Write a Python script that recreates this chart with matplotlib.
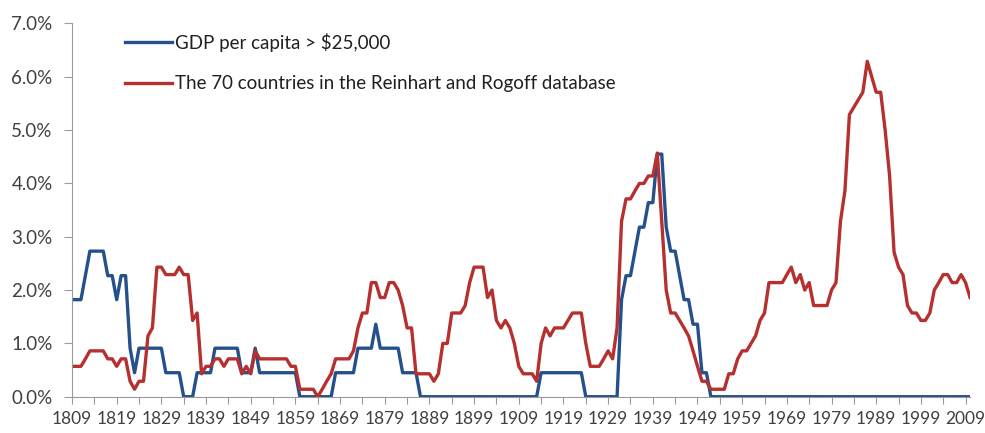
#!/usr/bin/env python3
"""
Share of countries in default / crisis, 1809-2010
two series: rich countries vs. full Reinhart-Rogoff sample
"""
import matplotlib
matplotlib.use("Agg")
import matplotlib.pyplot as plt
from matplotlib.ticker import FuncFormatter

plt.rcParams['font.family'] = ['Lato', 'DejaVu Sans']

# ---- data (percent, one value per year, 1809..2010) ----
start_year = 1809

gdp_25k = [
    1.82, 1.82, 1.82, 2.27, 2.73, 2.73, 2.73, 2.73, 2.27, 2.27,   # 1809
    1.82, 2.27, 2.27, 0.91, 0.45, 0.91, 0.91, 0.91, 0.91, 0.91,   # 1819
    0.91, 0.45, 0.45, 0.45, 0.45, 0.00, 0.00, 0.00, 0.45, 0.45,   # 1829
    0.45, 0.45, 0.91, 0.91, 0.91, 0.91, 0.91, 0.91, 0.45, 0.45,   # 1839
    0.45, 0.91, 0.45, 0.45, 0.45, 0.45, 0.45, 0.45, 0.45, 0.45,   # 1849
    0.45, 0.00, 0.00, 0.00, 0.00, 0.00, 0.00, 0.00, 0.00, 0.45,   # 1859
    0.45, 0.45, 0.45, 0.45, 0.91, 0.91, 0.91, 0.91, 1.36, 0.91,   # 1869
    0.91, 0.91, 0.91, 0.91, 0.45, 0.45, 0.45, 0.45, 0.00, 0.00,   # 1879
    0.00, 0.00, 0.00, 0.00, 0.00, 0.00, 0.00, 0.00, 0.00, 0.00,   # 1889
    0.00, 0.00, 0.00, 0.00, 0.00, 0.00, 0.00, 0.00, 0.00, 0.00,   # 1899
    0.00, 0.00, 0.00, 0.00, 0.00, 0.45, 0.45, 0.45, 0.45, 0.45,   # 1909
    0.45, 0.45, 0.45, 0.45, 0.45, 0.00, 0.00, 0.00, 0.00, 0.00,   # 1919
    0.00, 0.00, 0.00, 1.82, 2.27, 2.27, 2.73, 3.18, 3.18, 3.64,   # 1929
    3.64, 4.55, 4.55, 3.18, 2.73, 2.73, 2.27, 1.82, 1.82, 1.36,   # 1939
    1.36, 0.45, 0.45, 0.00, 0.00, 0.00, 0.00, 0.00, 0.00, 0.00,   # 1949
    0.00, 0.00, 0.00, 0.00, 0.00, 0.00, 0.00, 0.00, 0.00, 0.00,   # 1959
    0.00, 0.00, 0.00, 0.00, 0.00, 0.00, 0.00, 0.00, 0.00, 0.00,   # 1969
    0.00, 0.00, 0.00, 0.00, 0.00, 0.00, 0.00, 0.00, 0.00, 0.00,   # 1979
    0.00, 0.00, 0.00, 0.00, 0.00, 0.00, 0.00, 0.00, 0.00, 0.00,   # 1989
    0.00, 0.00, 0.00, 0.00, 0.00, 0.00, 0.00, 0.00, 0.00, 0.00,   # 1999
    0.00, 0.00,                                                   # 2009
]

all_70 = [
    0.57, 0.57, 0.57, 0.71, 0.86, 0.86, 0.86, 0.86, 0.71, 0.71,   # 1809
    0.57, 0.71, 0.71, 0.29, 0.14, 0.29, 0.29, 1.14, 1.29, 2.43,   # 1819
    2.43, 2.29, 2.29, 2.29, 2.43, 2.29, 2.29, 1.43, 1.57, 0.43,   # 1829
    0.57, 0.57, 0.71, 0.71, 0.57, 0.71, 0.71, 0.71, 0.43, 0.57,   # 1839
    0.43, 0.86, 0.71, 0.71, 0.71, 0.71, 0.71, 0.71, 0.71, 0.57,   # 1849
    0.57, 0.14, 0.14, 0.14, 0.14, 0.00, 0.14, 0.29, 0.43, 0.71,   # 1859
    0.71, 0.71, 0.71, 0.86, 1.29, 1.57, 1.57, 2.14, 2.14, 1.86,   # 1869
    1.86, 2.14, 2.14, 2.00, 1.71, 1.29, 1.29, 0.43, 0.43, 0.43,   # 1879
    0.43, 0.29, 0.43, 1.00, 1.00, 1.57, 1.57, 1.57, 1.71, 2.14,   # 1889
    2.43, 2.43, 2.43, 1.86, 2.00, 1.43, 1.29, 1.43, 1.29, 1.00,   # 1899
    0.57, 0.43, 0.43, 0.43, 0.29, 1.00, 1.29, 1.14, 1.29, 1.29,   # 1909
    1.29, 1.43, 1.57, 1.57, 1.57, 1.00, 0.57, 0.57, 0.57, 0.71,   # 1919
    0.86, 0.71, 1.29, 3.29, 3.71, 3.71, 3.86, 4.00, 4.00, 4.14,   # 1929
    4.14, 4.57, 3.29, 2.00, 1.57, 1.57, 1.43, 1.29, 1.14, 0.86,   # 1939
    0.57, 0.29, 0.29, 0.14, 0.14, 0.14, 0.14, 0.43, 0.43, 0.71,   # 1949
    0.86, 0.86, 1.00, 1.14, 1.43, 1.57, 2.14, 2.14, 2.14, 2.14,   # 1959
    2.29, 2.43, 2.14, 2.29, 2.00, 2.14, 1.71, 1.71, 1.71, 1.71,   # 1969
    2.00, 2.14, 3.29, 3.86, 5.29, 5.43, 5.57, 5.71, 6.29, 6.00,   # 1979
    5.71, 5.71, 5.00, 4.14, 2.71, 2.43, 2.29, 1.71, 1.57, 1.57,   # 1989
    1.43, 1.43, 1.57, 2.00, 2.14, 2.29, 2.29, 2.14, 2.14, 2.29,   # 1999
    2.14, 1.86,                                                   # 2009
]

years = list(range(start_year, start_year + len(all_70)))
assert len(gdp_25k) == len(all_70)

label_blue = 'GDP per capita > $25,000'
label_red = 'The 70 countries in the Reinhart and Rogoff database'

blue = '#24508C'
red = '#B5302E'
axis_grey = '#9A9A9A'
text_grey = '#404040'

# ---- figure ----
fig = plt.figure(figsize=(9.85, 4.33), dpi=100)
ax = fig.add_axes([0.0731, 0.0838, 0.9117, 0.862])

ax.plot(years, gdp_25k, color=blue, lw=2.4, label=label_blue, solid_joinstyle='round')
ax.plot(years, all_70, color=red, lw=2.4, label=label_red, solid_joinstyle='round')

ax.set_xlim(1809, 2010)
ax.set_ylim(0, 7)

# ticks every 5 years, labels every 10
ax.set_xticks(range(1809, 2010, 5))
ax.set_xticklabels([str(y) if (y - 1809) % 10 == 0 else '' for y in range(1809, 2010, 5)])
ax.set_yticks(range(0, 8))
ax.yaxis.set_major_formatter(FuncFormatter(lambda v, p: f'{v:.1f}%'))

ax.tick_params(axis='x', direction='out', length=5, width=0.8, color=axis_grey,
               labelsize=12.5, labelcolor=text_grey, pad=5)
ax.tick_params(axis='y', direction='out', length=6, width=0.8, color=axis_grey,
               labelsize=13.5, labelcolor=text_grey, pad=8)

for side in ['top', 'right']:
    ax.spines[side].set_visible(False)
for side in ['left', 'bottom']:
    ax.spines[side].set_color(axis_grey)
    ax.spines[side].set_linewidth(0.8)

leg = ax.legend(loc='upper left', bbox_to_anchor=(0.0505, 0.995), frameon=False,
                fontsize=13.5, handlelength=2.5, handletextpad=0.2,
                labelspacing=1.25, borderaxespad=0)
for t in leg.get_texts():
    t.set_color('#202020')

fig.savefig('out.png', dpi=100, facecolor='white')
